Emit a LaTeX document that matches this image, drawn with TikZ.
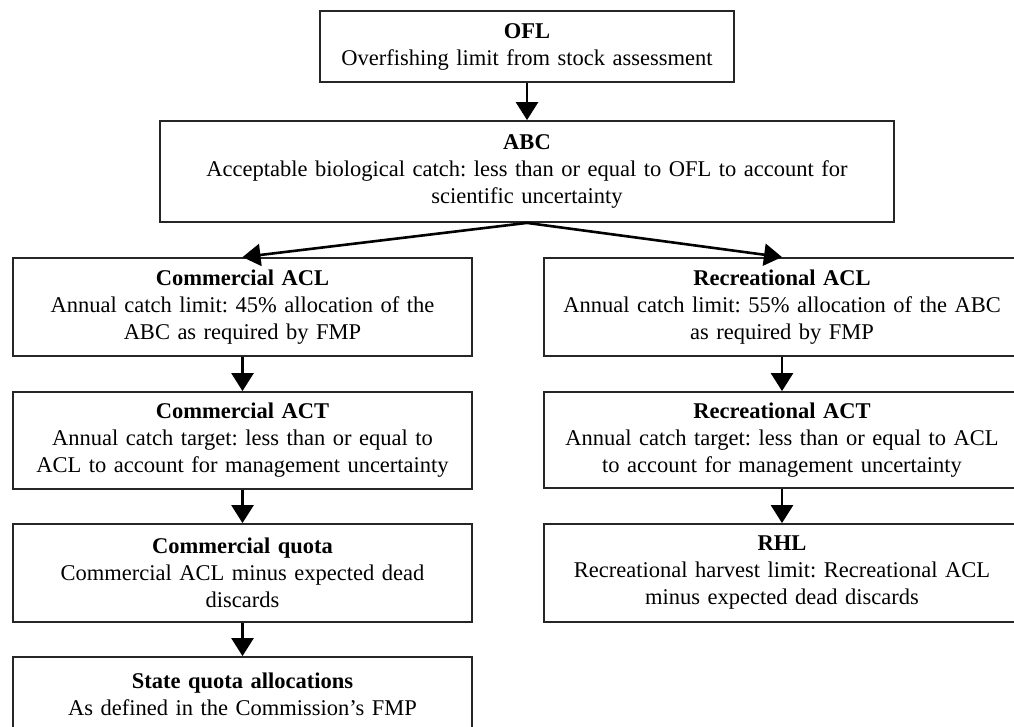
\documentclass[tikz,border=0pt]{standalone}
\usepackage{fontspec}
\setmainfont{Liberation Serif}
\usetikzlibrary{arrows.meta}
\frenchspacing
\begin{document}
\begin{tikzpicture}[x=1pt, y=-1pt,
      box/.style={draw=black!85, line width=1.8pt, align=center, inner xsep=0pt, inner ysep=0pt,
         font=\fontsize{22.5}{27}\selectfont},
      arr/.style={line width=2.6pt, -{Triangle[width=22pt, length=18pt]}}]
      \useasboundingbox (0, 0) rectangle (1014, 726);
      \begin{scope}
         \def \Boxes {
            ofl/527/46.5/414/71/OFL/{Overfishing limit from stock assessment},
            abc/527/171.5/734/101/ABC/{Acceptable biological catch: less than or equal to OFL to account for\\scientific uncertainty},
            cacl/242.5/307/459/98/{Commercial ACL}/{Annual catch limit: 45\% allocation of the\\ABC as required by FMP},
            racl/782/307/476/98/{Recreational ACL}/{Annual catch limit: 55\% allocation of the ABC\\as required by FMP},
            cact/242.5/440.5/459/97/{Commercial ACT}/{Annual catch target: less than or equal to\\ACL to account for management uncertainty},
            ract/782/440/476/96/{Recreational ACT}/{Annual catch target: less than or equal to ACL\\to account for management uncertainty},
            cquo/242.5/573/459/98/{Commercial quota}/{Commercial ACL minus expected dead\\discards},
            rhl/782/573/476/98/RHL/{Recreational harvest limit: Recreational ACL\\minus expected dead discards},
            sqa/242.5/694/459/74/{State quota allocations}/{As defined in the Commission's FMP}}
         \foreach \n / \x / \y / \w / \h / \ti / \tx in \Boxes {
            \node[box, minimum width=\w pt, minimum height=\h pt, text width=\w pt] (\n) at (\x, \y) {\textbf{\ti}\\\tx};
         }
      \end{scope}
      \path[draw, arr] (ofl) -- (abc);
      \path[draw, arr] (abc.south) -- (cacl.north);
      \path[draw, arr] (abc.south) -- (racl.north);
      \path[draw, arr] (cacl) -- (cact);
      \path[draw, arr] (cact) -- (cquo);
      \path[draw, arr] (cquo) -- (sqa);
      \path[draw, arr] (racl) -- (ract);
      \path[draw, arr] (ract) -- (rhl);
   \end{tikzpicture}
\end{document}
